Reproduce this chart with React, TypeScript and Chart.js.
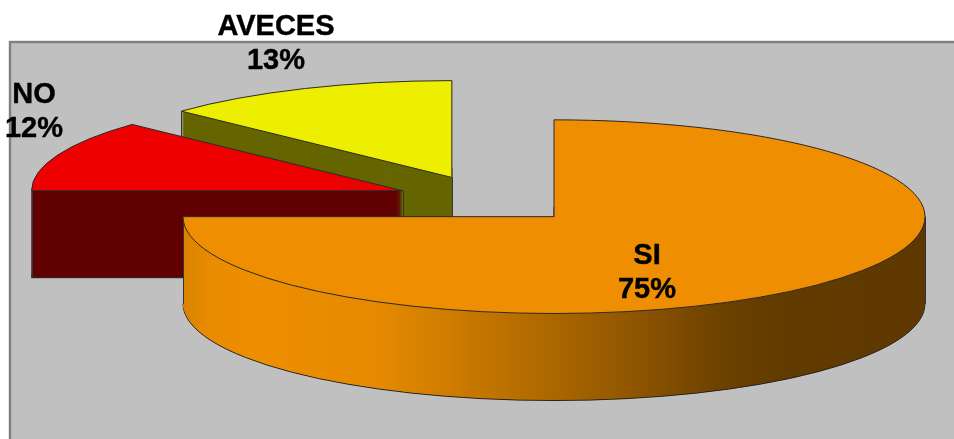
import React, { useEffect, useRef } from "react";
import { Chart, registerables } from "chart.js";

Chart.register(...registerables);

const categories = ["SI", "NO", "AVECES"];
const shares = [75, 12, 13];
const topColors = ["#EE8E00", "#EE0000", "#EEEE00"];
const sideColors = ["#643C00", "#600000", "#666600"];
const paintOrder = [2, 1, 0];

const FONT = 'bold 29px "Liberation Sans", Arial, sans-serif';
const scene = { cx: 488.6, cy: 199.6, rx: 371, tilt: 0.261, explode: 92.5, depth: 87 };
const labelBoxes = [
  { x: 647, y: 264 },
  { x: 34, y: 103 },
  { x: 276, y: 35 },
];
const LINE_GAP = 33.5;

const sideStops: [number, string][] = [
  [0, "#D98300"],
  [0.04, "#EA8C00"],
  [0.1, "#EE8E00"],
  [0.26, "#E68A00"],
  [0.42, "#C07300"],
  [0.58, "#965A00"],
  [0.72, "#6E4200"],
  [0.8, "#623B00"],
  [1, "#5E3800"],
];

const pseudo3d = {
  id: "pseudo3d",
  beforeDraw(chart: any) {
    const { ctx, chartArea: a } = chart;
    ctx.save();
    ctx.fillStyle = "#C0C0C0";
    ctx.fillRect(a.left, a.top, a.right - a.left, a.bottom - a.top);
    ctx.strokeStyle = "#808080";
    ctx.lineWidth = 2.4;
    ctx.strokeRect(a.left - 1, a.top - 1, a.right - a.left + 40, a.bottom - a.top + 40);
    ctx.restore();
  },
  beforeDatasetsDraw(chart: any) {
    const { ctx } = chart;
    const meta = chart.getDatasetMeta(0);
    const arcs = meta.data;
    const { cx, cy, rx, tilt, explode, depth } = scene;
    const base = ctx.getTransform();
    const nativeStroke = ctx.stroke;

    const paint = (arc: any, lift: number, fill: any, line: string | null) => {
      const s = rx / arc.outerRadius;
      const mid = (arc.startAngle + arc.endAngle) / 2;
      ctx.save();
      ctx.translate(cx + Math.cos(mid) * explode, cy + Math.sin(mid) * explode * tilt + lift);
      ctx.scale(s, s * tilt);
      ctx.translate(-arc.x, -arc.y);
      const kept = arc.options;
      arc.options = {
        backgroundColor: typeof fill === "function" ? fill(arc) : fill,
        borderColor: line || "transparent",
        borderWidth: line ? 1 : 0,
        borderAlign: "center",
        borderJoinStyle: "miter",
        borderDash: [],
        borderDashOffset: 0,
        borderRadius: 0,
        circular: true,
        offset: 0,
        spacing: 0,
      };
      ctx.stroke = function () {
        ctx.save();
        ctx.setTransform(base);
        ctx.lineWidth = 1;
        nativeStroke.call(ctx);
        ctx.restore();
      };
      arc.draw(ctx);
      delete ctx.stroke;
      arc.options = kept;
      ctx.restore();
    };

    const siGradient = (arc: any) => {
      const g = ctx.createLinearGradient(arc.x - arc.outerRadius, 0, arc.x + arc.outerRadius, 0);
      sideStops.forEach(([p, c]) => g.addColorStop(p, c));
      return g;
    };

    const silhouette = (arc: any) => {
      const mid = (arc.startAngle + arc.endAngle) / 2;
      const ox = cx + Math.cos(mid) * explode;
      const oy = cy + Math.sin(mid) * explode * tilt;
      const ry = rx * tilt;
      const pts = [
        { x: ox, y: oy },
        { x: ox + Math.cos(arc.startAngle) * rx, y: oy + Math.sin(arc.startAngle) * ry },
        { x: ox + Math.cos(arc.endAngle) * rx, y: oy + Math.sin(arc.endAngle) * ry },
      ];
      for (const k of [-3, -1, 1, 3]) {
        const ang = k * Math.PI;
        if (ang > arc.startAngle && ang < arc.endAngle) {
          pts.push({ x: ox - rx, y: oy });
        }
      }
      for (const k of [0, 2, 4]) {
        const ang = k * Math.PI;
        if (ang > arc.startAngle && ang < arc.endAngle) {
          pts.push({ x: ox + rx, y: oy });
        }
      }
      const minX = Math.min(...pts.map((p) => p.x));
      const maxX = Math.max(...pts.map((p) => p.x));
      return [minX, maxX].map((x) => {
        const ys = pts.filter((p) => Math.abs(p.x - x) < 0.01).map((p) => p.y);
        return { x: Math.round(x) + 0.5, y: Math.max(...ys) };
      });
    };

    for (const i of paintOrder) {
      const arc = arcs[i];
      const wall = i === 0 ? siGradient : sideColors[i];
      paint(arc, depth, wall, "#222222");
      for (let d = depth - 1; d >= 1; d--) paint(arc, d, wall, null);
      ctx.save();
      ctx.strokeStyle = "#333333";
      ctx.lineWidth = 1;
      for (const p of silhouette(arc)) {
        ctx.beginPath();
        ctx.moveTo(p.x, p.y);
        ctx.lineTo(p.x, p.y + depth);
        ctx.stroke();
      }
      ctx.restore();
      paint(arc, 0, topColors[i], "#2A2A2A");
    }

    ctx.save();
    ctx.font = FONT;
    ctx.fillStyle = "#000000";
    ctx.strokeStyle = "#000000";
    ctx.lineWidth = 0.4;
    ctx.textAlign = "center";
    ctx.textBaseline = "alphabetic";
    const total = shares.reduce((a, b) => a + b, 0);
    categories.forEach((name, i) => {
      const b = labelBoxes[i];
      const pct = `${Math.round((shares[i] / total) * 100)}%`;
      ctx.fillText(name, b.x, b.y);
      ctx.strokeText(name, b.x, b.y);
      ctx.fillText(pct, b.x, b.y + LINE_GAP);
      ctx.strokeText(pct, b.x, b.y + LINE_GAP);
    });
    ctx.restore();
    return false;
  },
};

export default function App() {
  const ref = useRef<HTMLCanvasElement>(null);
  useEffect(() => {
    document.body.style.margin = "0";
    const chart = new Chart(ref.current as HTMLCanvasElement, {
      type: "pie",
      data: {
        labels: categories,
        datasets: [{ data: shares, backgroundColor: topColors, borderWidth: 0 }],
      },
      options: {
        responsive: false,
        animation: false,
        layout: { padding: { left: 11, top: 43 } },
        plugins: { legend: { display: false }, tooltip: { enabled: false } },
      },
      plugins: [pseudo3d],
    } as any);
    return () => chart.destroy();
  }, []);
  return <canvas ref={ref} width={954} height={439} style={{ display: "block", width: 954, height: 439 }} />;
}
